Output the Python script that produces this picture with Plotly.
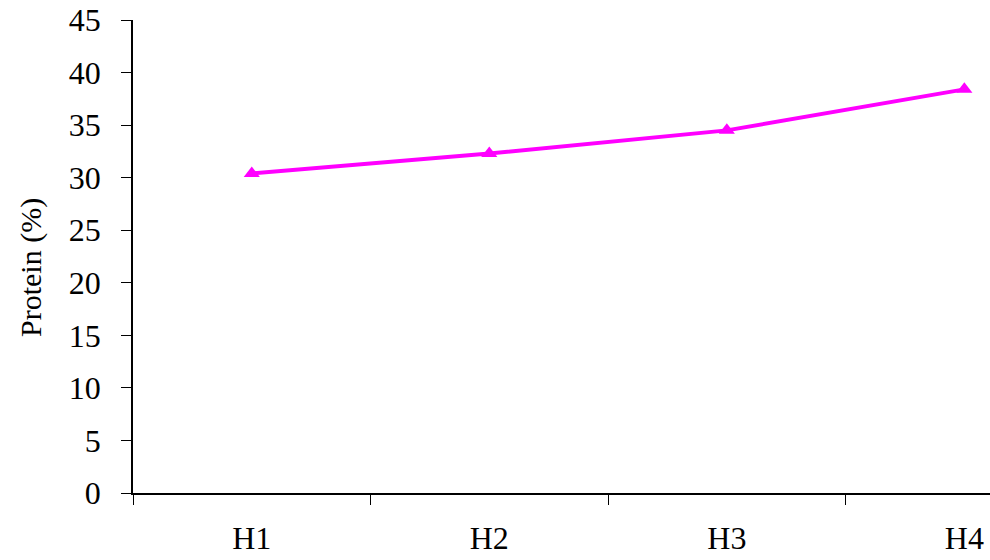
import plotly.graph_objects as go

# Protein content by group
groups = ["H1", "H2", "H3", "H4"]
protein = [30.4, 32.3, 34.5, 38.4]

y_ticks = list(range(0, 50, 5))

font_family = "Liberation Serif"
font_size = 32

fig = go.Figure()
fig.add_trace(go.Scatter(
    x=groups,
    y=protein,
    mode="lines+markers",
    line=dict(color="#FF00FF", width=4),
    marker=dict(symbol="triangle-up", size=14, color="#FF00FF"),
    cliponaxis=False,
    showlegend=False,
))

fig.update_layout(
    width=990,
    height=560,
    margin=dict(l=133, r=0, t=20, b=67),
    paper_bgcolor="white",
    plot_bgcolor="white",
    font=dict(family=font_family, size=font_size, color="black"),
    xaxis=dict(
        type="category",
        range=[-0.5, 3.108],
        tickson="boundaries",
        ticks="outside",
        ticklen=10,
        tickwidth=1,
        tickcolor="black",
        showline=True,
        linecolor="black",
        linewidth=1.5,
        showgrid=False,
        zeroline=False,
        ticklabelstandoff=16,
        tickfont=dict(family=font_family, size=font_size),
    ),
    yaxis=dict(
        range=[0, 45],
        tickvals=y_ticks,
        ticks="outside",
        ticklen=10,
        tickwidth=1,
        tickcolor="black",
        showline=True,
        linecolor="black",
        linewidth=1.5,
        showgrid=False,
        zeroline=False,
        ticklabelstandoff=14,
        tickfont=dict(family=font_family, size=font_size),
    ),
    annotations=[dict(
        text="Protein (%)",
        xref="paper", yref="paper",
        x=-121 / 857, xanchor="left",
        y=(560 - 67 - 268) / 473, yanchor="middle",
        textangle=-90,
        showarrow=False,
        font=dict(family=font_family, size=30, color="black"),
    )],
)

fig.write_html("out.html")
